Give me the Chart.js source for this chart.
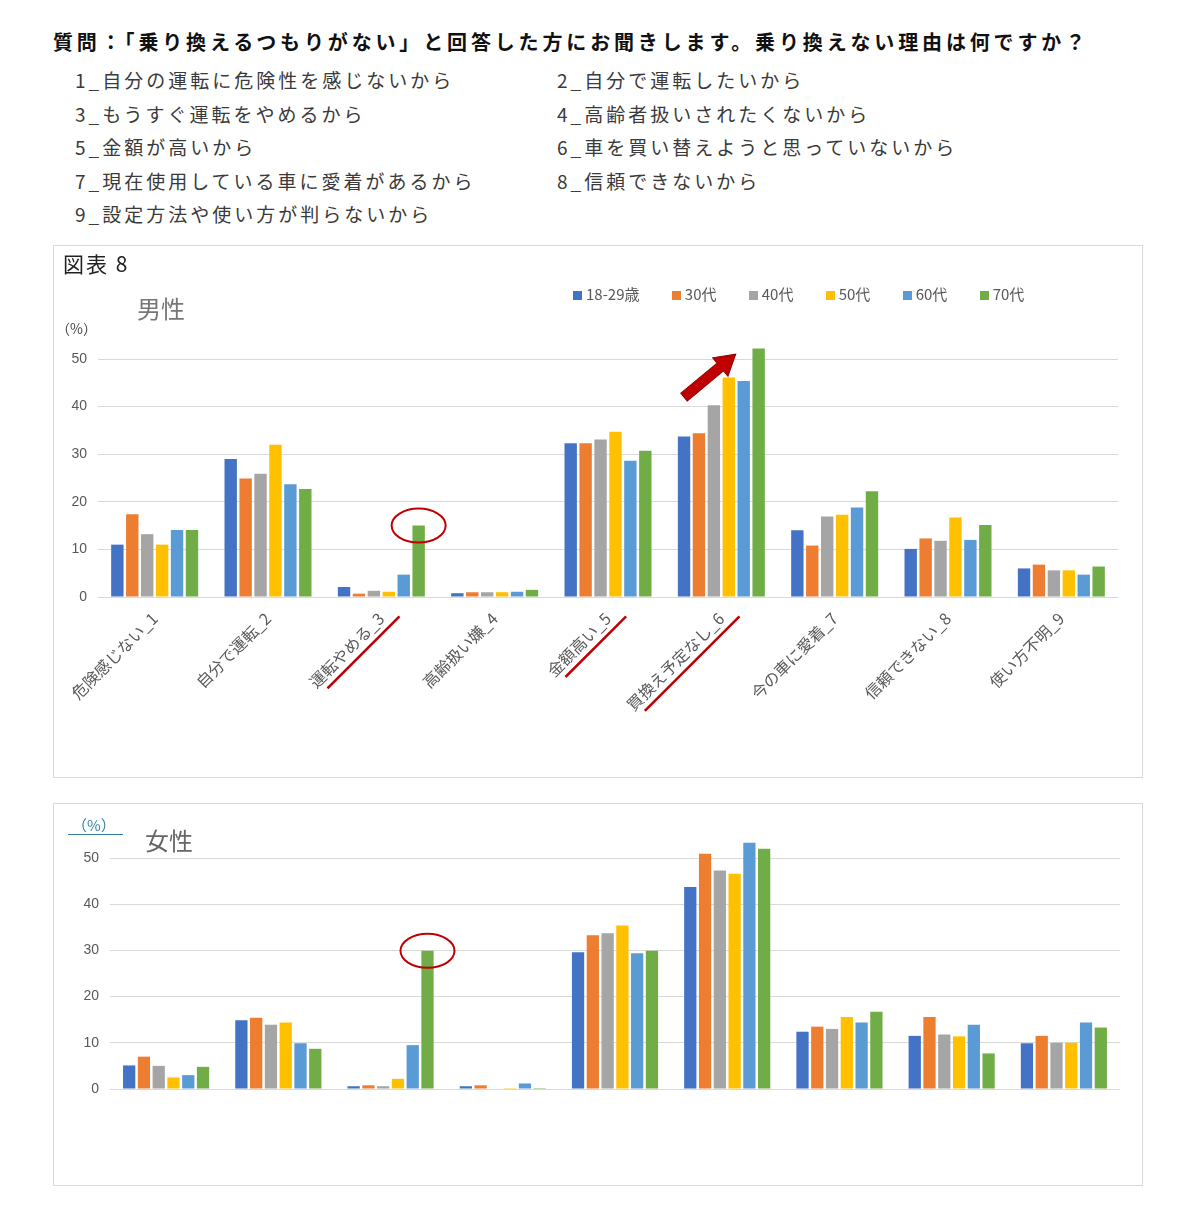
<!DOCTYPE html>
<html lang="ja">
<head>
<meta charset="utf-8">
<script src="https://cdn.jsdelivr.net/npm/chart.js@4.4.1/dist/chart.umd.min.js"></script>
<style>
  body { margin: 0; background: #fff; font-family: "Noto Sans CJK JP", sans-serif; }
  #page { position: relative; width: 1200px; height: 1222px; overflow: hidden; }
  .abs { position: absolute; white-space: nowrap; }
  .title { left: 53px; top: 29px; font-size: 20px; font-weight: 700; letter-spacing: 3.85px; color: #111; line-height: 26px; }
  .item { font-size: 19px; letter-spacing: 3px; color: #3a3a3a; line-height: 24px; }
  .panel { position: absolute; border: 1px solid #d9d9d9; box-sizing: border-box; }
  .legend { left: 573px; top: 284px; display: flex; font-size: 15px; color: #595959; line-height: 20px; }
  .legend span.box { display: inline-block; width: 9px; height: 9px; margin-right: 4px; vertical-align: 0px; }
  .legend div { margin-right: 32.3px; }
</style>
</head>
<body>
<div id="page">
  <div class="abs title">質問：「乗り換えるつもりがない」と回答した方にお聞きします。乗り換えない理由は何ですか？</div>
  <div id="reasonList"></div>

  <div class="panel" style="left:53px;top:245px;width:1090px;height:533px;">
    <canvas id="maleChart" width="1088" height="531"></canvas>
  </div>
  <div class="abs" style="left:63px;top:250px;font-size:21px;letter-spacing:2px;color:#222;line-height:26px;">図表 8</div>
  <div class="abs" style="left:137px;top:293px;font-size:24px;color:#777;line-height:30px;">男性</div>
  <div class="abs" style="left:56px;top:318px;font-size:14px;color:#444;line-height:20px;">（%）</div>
  <div class="abs legend" id="legend"></div>

  <div class="panel" style="left:53px;top:803px;width:1090px;height:383px;">
    <canvas id="femaleChart" width="1088" height="381"></canvas>
  </div>
  <div class="abs" style="left:72px;top:815px;font-size:15px;color:#31849b;line-height:20px;">（%）</div>
  <div class="abs" style="left:68px;top:834px;width:55px;height:1px;background:#31849b;"></div>
  <div class="abs" style="left:145px;top:825px;font-size:24px;color:#666;line-height:30px;">女性</div>
</div>

<script>
const reasons = [
  '1_自分の運転に危険性を感じないから',
  '2_自分で運転したいから',
  '3_もうすぐ運転をやめるから',
  '4_高齢者扱いされたくないから',
  '5_金額が高いから',
  '6_車を買い替えようと思っていないから',
  '7_現在使用している車に愛着があるから',
  '8_信頼できないから',
  '9_設定方法や使い方が判らないから'
];

const categories = ['危険感じない_1', '自分で運転_2', '運転やめる_3', '高齢扱い嫌_4', '金額高い_5',
  '買換え予定なし_6', '今の車に愛着_7', '信頼できない_8', '使い方不明_9'];
const ageGroups = ['18-29歳', '30代', '40代', '50代', '60代', '70代'];
const yTicks = [0, 10, 20, 30, 40, 50];

// 男性 (%)
const male18to29 = [11.0, 29.0, 2.1, 0.8, 32.3, 33.7, 14.0, 10.1, 6.0];
const male30s    = [17.4, 24.9, 0.7, 1.0, 32.3, 34.4, 10.8, 12.3, 6.8];
const male40s    = [13.2, 25.9, 1.3, 1.0, 33.1, 40.3, 16.9, 11.8, 5.6];
const male50s    = [11.0, 32.0, 1.1, 1.0, 34.7, 46.1, 17.3, 16.7, 5.6];
const male60s    = [14.1, 23.7, 4.7, 1.1, 28.6, 45.4, 18.8, 12.0, 4.7];
const male70s    = [14.1, 22.7, 15.0, 1.5, 30.7, 52.2, 22.2, 15.1, 6.4];

// 女性 (%)
const female18to29 = [5.1, 14.9, 0.6, 0.6, 29.6, 43.7, 12.4, 11.5, 9.9];
const female30s    = [7.0, 15.4, 0.8, 0.8, 33.3, 50.9, 13.5, 15.6, 11.5];
const female40s    = [5.0, 13.9, 0.6, 0.0, 33.7, 47.3, 13.0, 11.8, 10.0];
const female50s    = [2.5, 14.4, 2.2, 0.2, 35.4, 46.6, 15.6, 11.4, 10.0];
const female60s    = [3.0, 9.9, 9.5, 1.2, 29.4, 53.3, 14.4, 13.9, 14.4];
const female70s    = [4.8, 8.7, 29.9, 0.2, 29.9, 52.0, 16.7, 7.7, 13.3];

const colors = ['#4472c4', '#ed7d31', '#a5a5a5', '#ffc000', '#5b9bd5', '#70ad47'];
const markRed = '#c00000';
const fontFamily = '"Noto Sans CJK JP", sans-serif';
const labelSize = 16;

// 理由リスト
const list = document.getElementById('reasonList');
reasons.forEach((r, i) => {
  const d = document.createElement('div');
  d.className = 'abs item';
  d.style.left = (i % 2 === 0 ? 75 : 557) + 'px';
  d.style.top = (68 + Math.floor(i / 2) * 33.5) + 'px';
  d.textContent = r;
  list.appendChild(d);
});

// 凡例
document.getElementById('legend').innerHTML = ageGroups.map((g, i) =>
  `<div><span class="box" style="background:${colors[i]}"></span>${g}</div>`).join('');

function makeDatasets(series) {
  return series.map((data, i) => ({
    label: ageGroups[i],
    data: data,
    backgroundColor: colors[i],
    categoryPercentage: 0.79,
    barPercentage: 0.83,
    clip: false
  }));
}

// 赤い丸・矢印・下線
const marksPlugin = {
  id: 'marks',
  afterDraw(chart, args, opts) {
    const ctx = chart.ctx;
    ctx.save();
    ctx.strokeStyle = markRed;
    ctx.lineWidth = 2;
    (opts.circles || []).forEach(([ds, idx]) => {
      const bar = chart.getDatasetMeta(ds).data[idx];
      ctx.beginPath();
      ctx.ellipse(bar.x, bar.y, 27, 17, 0, 0, Math.PI * 2);
      ctx.stroke();
    });

    if (opts.underlines) {
      const xs = chart.scales.x;
      const rot = xs.labelRotation * Math.PI / 180;
      const dir = [Math.cos(rot), -Math.sin(rot)];
      const down = [Math.sin(rot), Math.cos(rot)];
      ctx.font = labelSize + 'px ' + fontFamily;
      ctx.lineWidth = 2.5;
      opts.underlines.forEach(i => {
        const w = ctx.measureText(categories[i]).width;
        const ax = xs.getPixelForTick(i) + down[0] * 18 + 4;
        const ay = xs.top + 8 + down[1] * 18;
        ctx.beginPath();
        ctx.moveTo(ax + dir[0] * 2, ay + dir[1] * 2);
        ctx.lineTo(ax - dir[0] * (w + 2), ay - dir[1] * (w + 2));
        ctx.stroke();
      });
    }

    if (opts.arrow) {
      const a = opts.arrow;
      const y = chart.scales.y;
      const meta = chart.getDatasetMeta(0).data[a.index];
      const meta2 = chart.getDatasetMeta(4).data[a.index];
      const x0 = meta.x, y0 = y.getPixelForValue(a.from);
      const x1 = meta2.x - 8, y1 = y.getPixelForValue(a.to);
      const ang = Math.atan2(y1 - y0, x1 - x0);
      const len = Math.hypot(x1 - x0, y1 - y0);
      ctx.translate(x0, y0);
      ctx.rotate(ang);
      ctx.beginPath();
      ctx.moveTo(0, -5);
      ctx.lineTo(len - 20, -5);
      ctx.lineTo(len - 20, -12);
      ctx.lineTo(len, 0);
      ctx.lineTo(len - 20, 12);
      ctx.lineTo(len - 20, 5);
      ctx.lineTo(0, 5);
      ctx.closePath();
      ctx.fillStyle = markRed;
      ctx.fill();
      ctx.lineWidth = 1;
      ctx.strokeStyle = '#900000';
      ctx.stroke();
    }
    ctx.restore();
  }
};

function baseOptions(yWidth, xHeight, padding, showX, marks) {
  return {
    responsive: false,
    animation: false,
    layout: { padding: padding },
    plugins: {
      legend: { display: false },
      tooltip: { enabled: false },
      marks: marks
    },
    scales: {
      x: {
        grid: { display: false },
        border: { display: false },
        ticks: {
          display: showX,
          color: '#595959',
          font: { family: fontFamily, size: labelSize },
          minRotation: 45,
          maxRotation: 45,
          padding: 4
        },
        afterFit: s => { s.height = xHeight; }
      },
      y: {
        min: 0,
        max: 50,
        afterBuildTicks: s => { s.ticks = yTicks.map(v => ({ value: v })); },
        grid: { color: '#d9d9d9', drawTicks: false },
        border: { display: false },
        ticks: {
          color: '#595959',
          font: { family: 'Arial, "Liberation Sans", sans-serif', size: 14 },
          padding: 11
        },
        afterFit: s => { s.width = yWidth; }
      }
    }
  };
}

new Chart(document.getElementById('maleChart'), {
  type: 'bar',
  data: {
    labels: categories,
    datasets: makeDatasets([male18to29, male30s, male40s, male50s, male60s, male70s])
  },
  options: baseOptions(44, 180, { left: 0, right: 24, top: 113, bottom: 0 }, true, {
    circles: [[5, 2]],
    underlines: [2, 4, 5],
    arrow: { index: 5, from: 42, to: 51 }
  }),
  plugins: [marksPlugin]
});

new Chart(document.getElementById('femaleChart'), {
  type: 'bar',
  data: {
    labels: categories,
    datasets: makeDatasets([female18to29, female30s, female40s, female50s, female60s, female70s])
  },
  options: baseOptions(56, 96, { left: 0, right: 22, top: 54, bottom: 0 }, false, {
    circles: [[5, 2]]
  }),
  plugins: [marksPlugin]
});
</script>
</body>
</html>
